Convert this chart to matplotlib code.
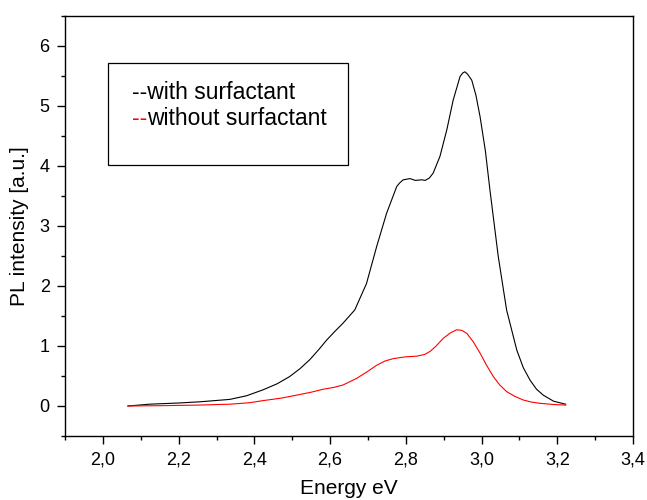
import numpy as np
import matplotlib.pyplot as plt
from matplotlib.ticker import MultipleLocator, FuncFormatter
from matplotlib.patches import Rectangle

plt.rcParams['font.family'] = ['Liberation Sans', 'DejaVu Sans']

# PL spectrum, sample prepared with surfactant
energy_with = [2.066, 2.123, 2.20, 2.256, 2.335, 2.379, 2.423, 2.46, 2.493, 2.52,
               2.546, 2.57, 2.591, 2.612, 2.634, 2.665, 2.696, 2.723, 2.749,
               2.776, 2.784, 2.793, 2.811, 2.825, 2.842, 2.851, 2.862, 2.872,
               2.890, 2.908, 2.925, 2.943, 2.950, 2.956, 2.963, 2.974, 2.985,
               2.996, 3.010, 3.022, 3.044, 3.066, 3.093, 3.110, 3.128, 3.145,
               3.163, 3.19, 3.222]
pl_with = [0.0, 0.03, 0.05, 0.07, 0.11, 0.17, 0.27, 0.37, 0.49, 0.62,
           0.77, 0.94, 1.10, 1.24, 1.38, 1.60, 2.04, 2.66, 3.21,
           3.66, 3.72, 3.77, 3.79, 3.76, 3.77, 3.76, 3.80, 3.88,
           4.16, 4.60, 5.10, 5.49, 5.55, 5.57, 5.53, 5.43, 5.18,
           4.82, 4.25, 3.60, 2.49, 1.60, 0.93, 0.64, 0.43, 0.28,
           0.18, 0.08, 0.03]

# PL spectrum, sample prepared without surfactant
energy_without = [2.066, 2.15, 2.25, 2.335, 2.388, 2.423, 2.47, 2.511, 2.55,
                  2.582, 2.61, 2.634, 2.670, 2.700, 2.723, 2.745, 2.767, 2.80,
                  2.828, 2.85, 2.864, 2.88, 2.899, 2.918, 2.934, 2.948, 2.961,
                  2.978, 2.996, 3.013, 3.031, 3.048, 3.066, 3.088, 3.110, 3.132,
                  3.154, 3.19, 3.222]
pl_without = [0.0, 0.005, 0.015, 0.03, 0.055, 0.09, 0.13, 0.18, 0.23,
              0.28, 0.31, 0.35, 0.46, 0.58, 0.68, 0.75, 0.79, 0.82,
              0.83, 0.86, 0.91, 1.00, 1.13, 1.22, 1.27, 1.26, 1.21,
              1.07, 0.88, 0.68, 0.49, 0.35, 0.24, 0.16, 0.10, 0.065,
              0.045, 0.025, 0.015]

fig = plt.figure(figsize=(6.47, 5.0), dpi=100)
ax = fig.add_axes([0.1005, 0.128, 0.878, 0.84])

ax.plot(energy_with, pl_with, color='black', lw=0.8)
ax.plot(energy_without, pl_without, color='red', lw=0.8)

ax.set_xlim(1.9, 3.4)
ax.set_ylim(-0.5, 6.5)

ax.xaxis.set_major_locator(MultipleLocator(0.2))
ax.xaxis.set_minor_locator(MultipleLocator(0.1))
ax.yaxis.set_major_locator(MultipleLocator(1))
ax.yaxis.set_minor_locator(MultipleLocator(0.5))
ax.xaxis.set_major_formatter(FuncFormatter(lambda v, p: f"{v:.1f}".replace('.', ',')))
ax.yaxis.set_major_formatter(FuncFormatter(lambda v, p: f"{v:.0f}"))

ax.tick_params(which='both', direction='out', top=False, right=False,
               labelsize=13, width=1.0, colors='black')
ax.tick_params(which='major', length=6, pad=5)
ax.tick_params(which='minor', length=3)
for s in ax.spines.values():
    s.set_linewidth(1.0)

ax.set_xlabel("Energy eV", fontsize=15, labelpad=8)
ax.set_ylabel("PL intensity [a.u.]", fontsize=15, labelpad=8)

# legend box drawn by hand so only the dashes carry the series colour
ax.add_patch(Rectangle((0.0757, 0.645), 0.4225, 0.243, transform=ax.transAxes,
                       fill=False, edgecolor='black', lw=0.9))
t1 = ax.text(0.118, 0.819, "--with surfactant", transform=ax.transAxes,
             fontsize=16.5, va='center', ha='left')
t2 = ax.text(0.118, 0.757, "--", transform=ax.transAxes, color='red',
             fontsize=16.5, va='center', ha='left')
ax.annotate("without surfactant", xy=(1, 0.5), xycoords=t2,
            fontsize=16.5, va='center', ha='left')

plt.savefig("out.png", dpi=100)
